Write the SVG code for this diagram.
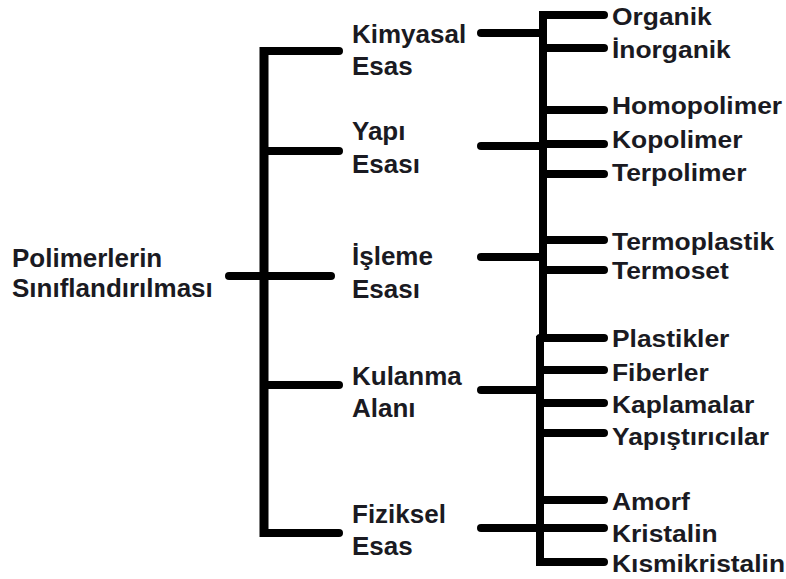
<svg xmlns="http://www.w3.org/2000/svg" width="786" height="579" viewBox="0 0 786 579">
  <style>
    .bg { fill: #ffffff; }
    .trunk { stroke: #000; stroke-width: 9; fill: none; stroke-linecap: butt; }
    .branch { stroke: #000; stroke-width: 8; fill: none; stroke-linecap: round; }
    .lbl { font-family: "Liberation Sans", Arial, sans-serif; font-weight: bold; fill: #1a1a22; }
    .big { font-size: 25px; }
    .small { font-size: 24px; }
  </style>
  <rect class="bg" x="0" y="0" width="786" height="579"/>

  <!-- connectors -->
  <g id="connectors">
    <!-- main bracket -->
    <line class="trunk" x1="264" y1="47" x2="264" y2="537"/>
    <line class="branch" x1="264" y1="51" x2="339" y2="51"/>
    <line class="branch" x1="264" y1="151" x2="339" y2="151"/>
    <line class="branch" x1="229" y1="276" x2="331" y2="276"/>
    <line class="branch" x1="264" y1="385" x2="339" y2="385"/>
    <line class="branch" x1="264" y1="533" x2="339" y2="533"/>

    <!-- category to sub-type links -->
    <line class="branch" x1="481" y1="33" x2="543" y2="33"/>
    <line class="branch" x1="481" y1="146" x2="543" y2="146"/>
    <line class="branch" x1="481" y1="257" x2="543" y2="257"/>
    <line class="branch" x1="481" y1="390" x2="540" y2="390"/>
    <line class="branch" x1="481" y1="528" x2="540" y2="528"/>

    <!-- sub-type spine -->
    <line class="trunk" x1="543" y1="11" x2="543" y2="342" style="stroke-width:8"/>
    <line class="trunk" x1="540" y1="336" x2="540" y2="566" style="stroke-width:8"/>

    <!-- sub-type ticks -->
    <line class="branch" x1="543" y1="15" x2="604" y2="15"/>
    <line class="branch" x1="543" y1="48" x2="604" y2="48"/>
    <line class="branch" x1="543" y1="110" x2="604" y2="110"/>
    <line class="branch" x1="543" y1="144" x2="604" y2="144"/>
    <line class="branch" x1="543" y1="174" x2="604" y2="174"/>
    <line class="branch" x1="543" y1="240" x2="604" y2="240"/>
    <line class="branch" x1="543" y1="270" x2="604" y2="270"/>
    <line class="branch" x1="540" y1="338" x2="604" y2="338"/>
    <line class="branch" x1="540" y1="370" x2="604" y2="370"/>
    <line class="branch" x1="540" y1="403" x2="604" y2="403"/>
    <line class="branch" x1="540" y1="433" x2="604" y2="433"/>
    <line class="branch" x1="540" y1="500" x2="604" y2="500"/>
    <line class="branch" x1="540" y1="528" x2="604" y2="528"/>
    <line class="branch" x1="540" y1="562" x2="604" y2="562"/>
  </g>

  <!-- root -->
  <g id="root">
    <text class="lbl big" transform="translate(12,267) scale(1.04,1)">Polimerlerin</text>
    <text class="lbl big" transform="translate(12,297) scale(1.04,1)">Sınıflandırılması</text>
  </g>

  <!-- categories -->
  <g id="kimyasal">
    <text class="lbl big" transform="translate(352,43) scale(1.04,1)">Kimyasal</text>
    <text class="lbl big" transform="translate(352,75) scale(1.04,1)">Esas</text>
  </g>
  <g id="yapi">
    <text class="lbl big" transform="translate(352,140) scale(1.04,1)">Yapı</text>
    <text class="lbl big" transform="translate(352,173) scale(1.04,1)">Esası</text>
  </g>
  <g id="isleme">
    <text class="lbl big" transform="translate(352,265) scale(1.04,1)">İşleme</text>
    <text class="lbl big" transform="translate(352,298) scale(1.04,1)">Esası</text>
  </g>
  <g id="kulanma">
    <text class="lbl big" transform="translate(352,385) scale(1.04,1)">Kulanma</text>
    <text class="lbl big" transform="translate(352,417) scale(1.04,1)">Alanı</text>
  </g>
  <g id="fiziksel">
    <text class="lbl big" transform="translate(352,523) scale(1.04,1)">Fiziksel</text>
    <text class="lbl big" transform="translate(352,555) scale(1.04,1)">Esas</text>
  </g>

  <!-- sub-types -->
  <g id="organik"><text class="lbl small" transform="translate(612,25) scale(1.1,1)">Organik</text></g>
  <g id="inorganik"><text class="lbl small" transform="translate(612,58) scale(1.1,1)">İnorganik</text></g>
  <g id="homopolimer"><text class="lbl small" transform="translate(612,114) scale(1.1,1)">Homopolimer</text></g>
  <g id="kopolimer"><text class="lbl small" transform="translate(612,148) scale(1.1,1)">Kopolimer</text></g>
  <g id="terpolimer"><text class="lbl small" transform="translate(612,181) scale(1.1,1)">Terpolimer</text></g>
  <g id="termoplastik"><text class="lbl small" transform="translate(612,250) scale(1.1,1)">Termoplastik</text></g>
  <g id="termoset"><text class="lbl small" transform="translate(612,279) scale(1.1,1)">Termoset</text></g>
  <g id="plastikler"><text class="lbl small" transform="translate(612,347) scale(1.1,1)">Plastikler</text></g>
  <g id="fiberler"><text class="lbl small" transform="translate(612,381) scale(1.1,1)">Fiberler</text></g>
  <g id="kaplamalar"><text class="lbl small" transform="translate(612,413) scale(1.1,1)">Kaplamalar</text></g>
  <g id="yapistiricilar"><text class="lbl small" transform="translate(612,445) scale(1.1,1)">Yapıştırıcılar</text></g>
  <g id="amorf"><text class="lbl small" transform="translate(612,510) scale(1.1,1)">Amorf</text></g>
  <g id="kristalin"><text class="lbl small" transform="translate(612,542) scale(1.1,1)">Kristalin</text></g>
  <g id="kismikristalin"><text class="lbl small" transform="translate(612,572) scale(1.1,1)">Kısmikristalin</text></g>
</svg>
